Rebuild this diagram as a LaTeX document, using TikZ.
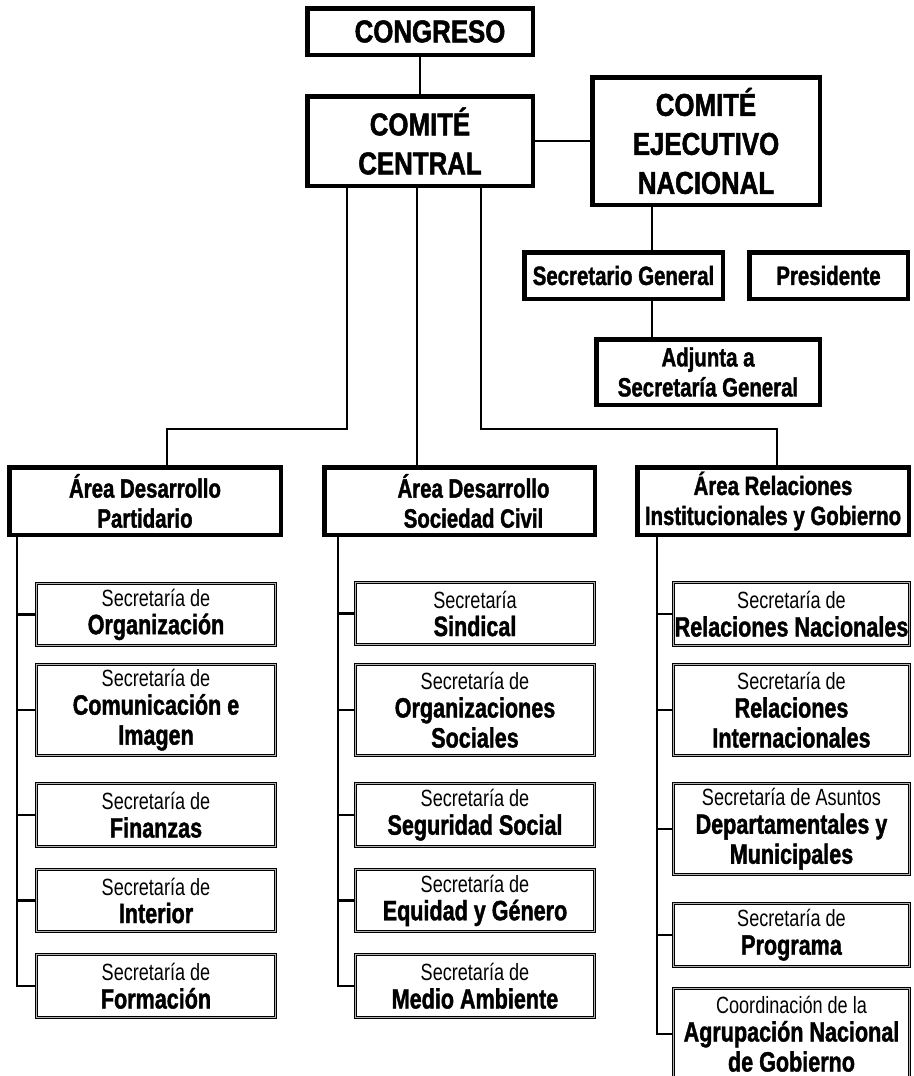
\documentclass[tikz,border=0pt]{standalone}
\usepackage{fontspec}
\setmainfont{Liberation Sans}[FakeStretch=0.77, BoldFeatures={FakeBold=1.4}]
\newfontfamily\bigfnt{Liberation Sans}[FakeStretch=0.82, BoldFeatures={FakeBold=1.6}]
\newcommand\bln[1]{{\bfseries\fontsize{28}{28}\selectfont #1}}
\newcommand\subfnt{\fontsize{23.5}{28}\selectfont\lineskiplimit=-30pt\relax}
\begin{document}
\begin{tikzpicture}[x=1pt,y=-1pt,
  line/.style={line width=2.3pt},
  sz/.style 2 args={minimum width=#1pt, minimum height=#2pt},
  bigbox/.style={draw, line width=4.5pt, align=center, inner sep=0pt,
    font=\bigfnt\bfseries\fontsize{31.5}{39}\selectfont},
  midbox/.style={draw, line width=4.5pt, align=center, inner sep=0pt,
    font=\bfseries\fontsize{26.5}{30}\selectfont},
  subbox/.style={draw, line width=0.8pt, double=gray!60, double distance=1pt,
    align=center, inner sep=0pt, font=\subfnt},
]
\clip (0,0) rectangle (913,1076);
\fill[white] (0,0) rectangle (913,1076);

% top level
\node[bigbox, sz={225.5}{46.5}] (congreso) at (420,31.5) {\hspace*{20pt}CONGRESO};
\node[bigbox, sz={225.5}{89.5}] (central) at (420,141) {COMITÉ\\CENTRAL};
\node[bigbox, sz={227.5}{127.5}] (cen) at (706,141) {COMITÉ\\EJECUTIVO\\NACIONAL};
\node[midbox, sz={198.5}{46.5}] (sg) at (623.5,275.5) {Secretario General};
\node[midbox, sz={158.5}{46.5}] (pres) at (828.5,275.5) {Presidente};
\node[midbox, sz={223.5}{65.5}] (adj) at (708,372) {Adjunta a\\Secretaría General};

% areas
\node[midbox, sz={271.5}{67.5}] (dp) at (145,501) {Área Desarrollo\\Partidario};
\node[midbox, sz={270.5}{67.5}] (dsc) at (459.5,501) {\hspace*{28pt}Área Desarrollo\\\hspace*{28pt}Sociedad Civil};
\node[midbox, sz={271.5}{67.5}] (rig) at (773,501) {Área Relaciones\\Institucionales y Gobierno};

% left column
\node[subbox, sz={239.4}{62.4}] (org) at (156,614.5) {Secretaría de\\\bln{Organización}};
\node[subbox, sz={239.4}{91.4}] (com) at (156,710) {Secretaría de\\\bln{Comunicación e}\\[2pt]\bln{Imagen}};
\node[subbox, sz={239.4}{63.4}] (fin) at (156,815) {Secretaría de\\\bln{Finanzas}};
\node[subbox, sz={239.4}{62.4}] (int) at (156,900.5) {Secretaría de\\\bln{Interior}};
\node[subbox, sz={239.4}{63.4}] (for) at (156,986) {Secretaría de\\\bln{Formación}};

% middle column
\node[subbox, sz={239.4}{62.4}] (sin) at (475,613.5) {Secretaría\\\bln{Sindical}};
\node[subbox, sz={239.4}{91.4}] (ors) at (475,710) {Secretaría de\\\bln{Organizaciones}\\[2pt]\bln{Sociales}};
\node[subbox, sz={239.4}{63.4}] (seg) at (475,815) {Secretaría de\\\bln{Seguridad Social}};
\node[subbox, sz={239.4}{62.4}] (equ) at (475,900.5) {Secretaría de\\\bln{Equidad y Género}};
\node[subbox, sz={239.4}{63.4}] (med) at (475,986) {Secretaría de\\\bln{Medio Ambiente}};

% right column
\node[subbox, sz={236.4}{63.4}] (rna) at (791.5,614) {Secretaría de\\\bln{Relaciones Nacionales}};
\node[subbox, sz={236.4}{91.4}] (rin) at (791.5,710) {Secretaría de\\\bln{Relaciones}\\[2pt]\bln{Internacionales}};
\node[subbox, sz={236.4}{91.4}] (dep) at (791.5,829) {Secretaría de Asuntos\\\bln{Departamentales y}\\[2pt]\bln{Municipales}};
\node[subbox, sz={236.4}{63.4}] (prg) at (791.5,935) {Secretaría de\\\bln{Programa}};
\node[subbox, sz={236.4}{91.4}] (agr) at (791.5,1034) {Coordinación de la\\\bln{Agrupación Nacional}\\[2pt]\bln{de Gobierno}};

% helper coordinates
\coordinate (x652) at (652,0);
\coordinate (c1) at (347,429);
\coordinate (d1) at (167,429);
\coordinate (m1) at (417,429);
\coordinate (r1) at (481,429);
\coordinate (r2) at (777,429);
\coordinate (s1) at (17,0);
\coordinate (s2) at (338,0);
\coordinate (s3) at (657,0);

% top connectors
\draw[line] (congreso.south) -- (central.north);
\draw[line] (central.east) -- (cen.west);
\draw[line] (cen.south -| x652) -- (sg.north -| x652);
\draw[line] (sg.south -| x652) -- (adj.north -| x652);

% central to areas
\draw[line] (central.south -| c1) -- (c1) -- (d1) -- (d1 |- dp.north);
\draw[line] (central.south -| m1) -- (m1 |- dsc.north);
\draw[line] (central.south -| r1) -- (r1) -- (r2) -- (r2 |- rig.north);

% spines
\draw[line] (dp.south -| s1) -- (s1 |- for.west) -- (for.west);
\foreach \n in {org,com,fin,int} \draw[line] (s1 |- \n.west) -- (\n.west);
\draw[line] (dsc.south -| s2) -- (s2 |- med.west) -- (med.west);
\foreach \n in {sin,ors,seg,equ} \draw[line] (s2 |- \n.west) -- (\n.west);
\draw[line] (rig.south -| s3) -- (s3 |- agr.west) -- (agr.west);
\foreach \n in {rna,rin,dep,prg} \draw[line] (s3 |- \n.west) -- (\n.west);
\end{tikzpicture}
\end{document}
